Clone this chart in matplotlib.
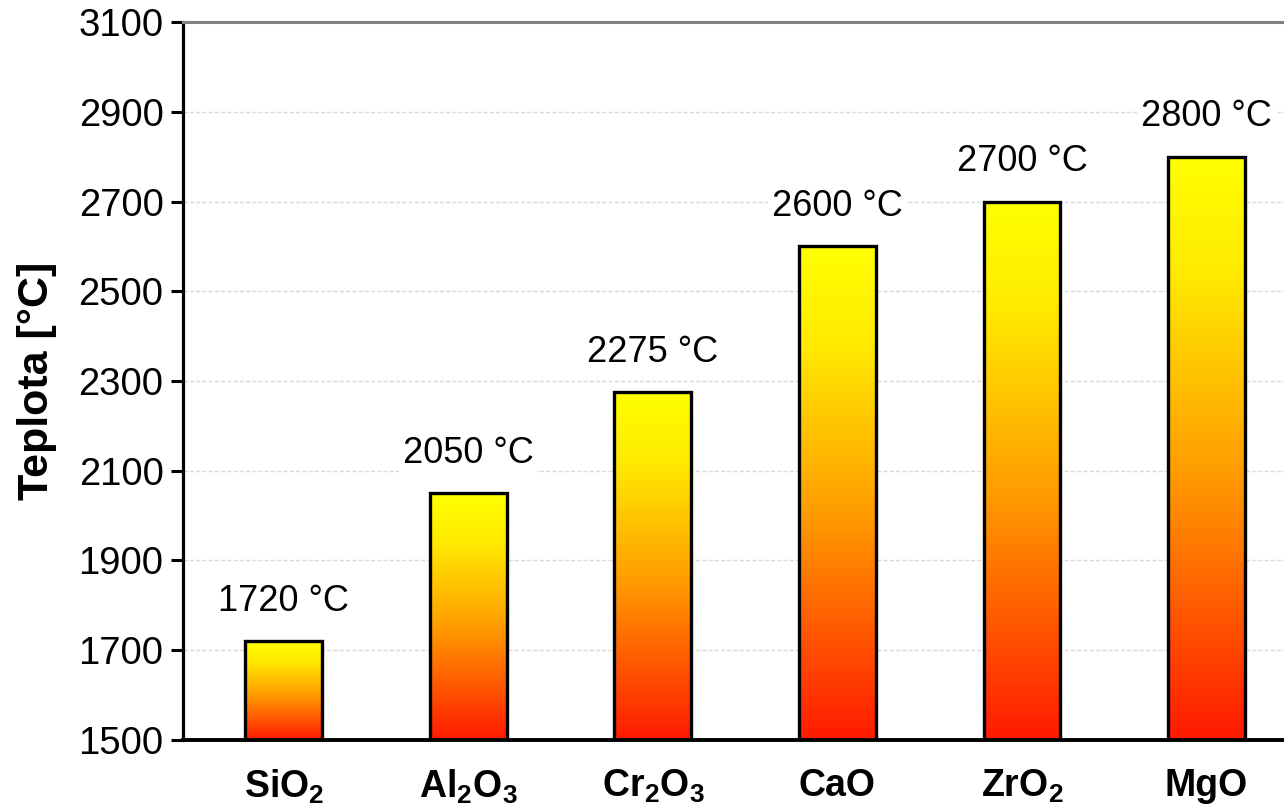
import numpy as np
import matplotlib
matplotlib.use("Agg")
import matplotlib.pyplot as plt
from matplotlib.colors import LinearSegmentedColormap
from matplotlib.patches import Rectangle

plt.rcParams['font.family'] = ['Liberation Sans', 'DejaVu Sans']
plt.rcParams['mathtext.fontset'] = 'custom'
plt.rcParams['mathtext.rm'] = 'Liberation Sans:bold'
plt.rcParams['mathtext.bf'] = 'Liberation Sans:bold'
plt.rcParams['mathtext.default'] = 'rm'

# Melting points of refractory oxides
oxides = [r'SiO$_2$', r'Al$_2$O$_3$', r'Cr$_2$O$_3$', 'CaO', r'ZrO$_2$', 'MgO']
melting_points = [1720, 2050, 2275, 2600, 2700, 2800]
value_labels = ['1720 °C', '2050 °C', '2275 °C', '2600 °C', '2700 °C', '2800 °C']
y_ticks = [1500, 1700, 1900, 2100, 2300, 2500, 2700, 2900, 3100]

fire = LinearSegmentedColormap.from_list(
    'fire', [(0.0, '#FF1A00'), (0.45, '#FF9A00'), (0.8, '#FFEA00'), (1.0, '#FFFF00')])

fig = plt.figure(figsize=(12.84, 8.09), dpi=100)
ax = fig.add_axes([0.1425, 0.0853, 0.8575, 0.8875])

y_min, y_max = 1500, 3100
bar_w = 0.417
x = np.arange(len(oxides))
grad = np.linspace(0, 1, 256).reshape(-1, 1)
for xi, val, lab in zip(x, melting_points, value_labels):
    left, right = xi - bar_w / 2, xi + bar_w / 2
    im = ax.imshow(grad, cmap=fire, origin='lower', aspect='auto',
                   extent=[left, right, y_min, val], zorder=2)
    rect = Rectangle((left, y_min), bar_w, val - y_min, facecolor='none',
                     edgecolor='black', linewidth=2.4, zorder=3)
    ax.add_patch(rect)
    im.set_clip_path(rect)
    ax.annotate(lab, xy=(xi, val), xytext=(0, 16), textcoords='offset points',
                ha='center', va='bottom', fontsize=26, color='black', zorder=4,
                bbox=dict(boxstyle='square,pad=0.1', facecolor='white', edgecolor='none'))

ax.set_xlim(-0.547, 5.42)
ax.set_ylim(y_min, y_max)

ax.set_yticks(y_ticks)
ax.set_yticklabels([str(t) for t in y_ticks], fontsize=27.5)
ax.set_xticks(x)
ax.set_xticklabels(oxides, fontsize=27, fontweight='bold')
ax.tick_params(axis='x', length=0, pad=20)
ax.tick_params(axis='y', length=9, width=2.2, direction='out', pad=5)

for t in y_ticks[1:-1]:
    ax.axhline(t, color='#D9D9D9', linewidth=1, linestyle=(0, (3, 1.5)), zorder=1)

ax.spines['left'].set_linewidth(2.3)
ax.spines['bottom'].set_linewidth(2.8)
ax.spines['top'].set_color('#808080')
ax.spines['top'].set_linewidth(2.2)
ax.spines['right'].set_visible(False)

ax.set_ylabel('Teplota [°C]', fontsize=31, fontweight='bold')
ax.yaxis.set_label_coords(-0.1144, 0.5)

fig.savefig('out.png', dpi=100)
